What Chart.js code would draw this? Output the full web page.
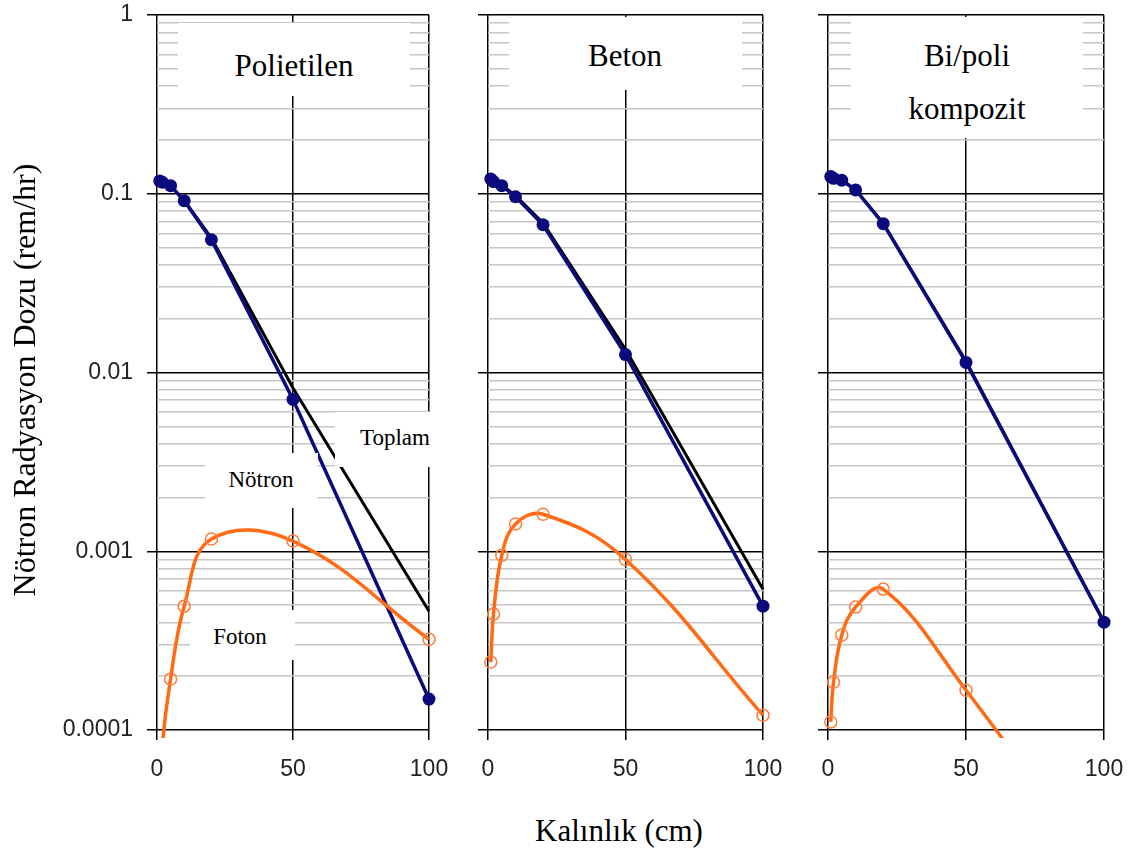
<!DOCTYPE html>
<html>
<head>
<meta charset="utf-8">
<script src="https://cdn.jsdelivr.net/npm/chart.js@4.4.0/dist/chart.umd.min.js"></script>
<style>
body { margin: 0; background: #fff; }
#wrap { position: relative; width: 1141px; height: 852px; overflow: hidden; background: #fff; }
#wrap canvas { position: absolute; top: -15px; }
.box { position: absolute; background: #fff; }
.txt { position: absolute; font-family: 'Liberation Serif', 'Times New Roman', serif; color: #000; line-height: 1; white-space: nowrap; transform: translateX(-50%); }
#ytitle { position: absolute; width: 600px; height: 32px; font-family: 'Liberation Serif', 'Times New Roman', serif; font-size: 32px; line-height: 32px; text-align: center; transform: rotate(-90deg); white-space: nowrap; }
</style>
</head>
<body>
<div id="wrap">
  <canvas id="c1" width="465" height="815" style="left:0px"></canvas>
  <canvas id="c2" width="344" height="815" style="left:455px"></canvas>
  <canvas id="c3" width="345" height="815" style="left:795px"></canvas>
  <div id="overlay"></div>
  <div id="ytitle">Nötron Radyasyon Dozu (rem/hr)</div>
</div>
<script>
// kalınlık (cm)
var xs = [1, 2, 5, 10, 20, 50, 100];
var xTicks = [0, 50, 100];
var yDecades = [0.0001, 0.001, 0.01, 0.1, 1];
var yTickLabels = ['0.0001', '0.001', '0.01', '0.1', '1'];

// Polietilen
var polyNotron = [0.118, 0.116, 0.111, 0.0914, 0.0553, 0.00707, 0.000149];
var polyFoton  = [0.00002, 0.00008, 0.000193, 0.000493, 0.00117, 0.00114, 0.000322];
var polyToplam = [0.118, 0.116, 0.111, 0.092, 0.0565, 0.0082, 0.000462];

// Beton
var betonNotron = [0.121, 0.117, 0.111, 0.0962, 0.0671, 0.0126, 0.000493];
var betonFoton  = [0.00024, 0.000445, 0.00095, 0.00142, 0.00161, 0.0009, 0.000121];
var betonToplam = [0.121, 0.117, 0.112, 0.0976, 0.0687, 0.0135, 0.000613];

// Bi/poli kompozit
var biNotron = [0.1247, 0.122, 0.119, 0.105, 0.068, 0.01138, 0.000401];
var biFoton  = [0.000111, 0.000185, 0.00034, 0.000487, 0.000614, 0.000167, 0.000015];
var biToplam = [0.1248, 0.1222, 0.1193, 0.1055, 0.0686, 0.01155, 0.000401];

var minorSteps = [2, 3, 4, 5, 6, 7, 8, 9];

var yGrid = [];
yDecades.forEach(function(d) {
    yGrid.push(d);
    if (d < 1) minorSteps.forEach(function(m) { yGrid.push(d * m); });
});

function isDecade(v) {
    var l = Math.log10(v);
    return Math.abs(l - Math.round(l)) < 1e-6;
}

function pts(arr) {
    return xs.map(function(x, i) { return { x: x, y: arr[i] }; });
}

var NAVY = '#0b0b7e';
var ORANGE = '#ff6a12';
var tickFont = { family: "'Liberation Sans', Arial, sans-serif", size: 23 };

function drawPanel(id, notron, foton, toplam, yAxisWidth, showLabels) {
    var ctx = document.getElementById(id).getContext('2d');
    return new Chart(ctx, {
        type: 'line',
        data: {
            datasets: [{
                data: pts(foton),
                borderColor: ORANGE,
                borderWidth: 3.5,
                tension: 0.4,
                pointRadius: 6,
                pointBorderWidth: 1.5,
                pointBorderColor: '#ff7d3c',
                pointBackgroundColor: 'rgba(0,0,0,0)',
                clip: { left: 10, top: 10, right: 10, bottom: 8 }
            }, {
                data: pts(notron),
                borderColor: NAVY,
                borderWidth: 3.5,
                tension: 0,
                pointRadius: 6.5,
                pointBorderWidth: 0,
                pointBackgroundColor: NAVY,
                clip: 10
            }, {
                data: pts(toplam),
                borderColor: '#000',
                borderWidth: 3,
                tension: 0,
                pointRadius: 0,
                clip: 10
            }]
        },
        options: {
            responsive: false,
            animation: false,
            layout: { padding: { top: 30, right: 36, bottom: 0, left: 0 } },
            plugins: { legend: { display: false }, tooltip: { enabled: false } },
            scales: {
                x: {
                    type: 'linear',
                    min: 0,
                    max: 100,
                    afterBuildTicks: function(scale) {
                        scale.ticks = xTicks.map(function(v) { return { value: v }; });
                    },
                    afterFit: function(scale) { scale.height = 70; },
                    ticks: { font: tickFont, color: '#222', padding: 16, autoSkip: false, maxRotation: 0 },
                    grid: { color: '#000', lineWidth: 1.5, tickColor: '#000', tickLength: 10 },
                    border: { display: false }
                },
                y: {
                    type: 'logarithmic',
                    min: 0.0001,
                    max: 1,
                    afterBuildTicks: function(scale) {
                        scale.ticks = yGrid.map(function(v) { return { value: v }; });
                    },
                    afterFit: function(scale) { scale.width = yAxisWidth; },
                    ticks: {
                        display: showLabels,
                        autoSkip: false,
                        font: tickFont,
                        color: '#222',
                        padding: 14,
                        callback: function(v) {
                            var i = yDecades.findIndex(function(d) { return Math.abs(d - v) / d < 1e-6; });
                            return i >= 0 ? yTickLabels[i] : '';
                        }
                    },
                    grid: {
                        color: function(c) { return isDecade(c.tick.value) ? '#000' : '#c6c6c6'; },
                        lineWidth: 1.5,
                        tickColor: function(c) { return isDecade(c.tick.value) ? '#000' : 'rgba(0,0,0,0)'; },
                        tickLength: 10
                    },
                    border: { display: false }
                }
            }
        }
    });
}

drawPanel('c1', polyNotron, polyFoton, polyToplam, 157, true);
drawPanel('c2', betonNotron, betonFoton, betonToplam, 33, false);
drawPanel('c3', biNotron, biFoton, biToplam, 33, false);

// white label boxes laid over the plot, like in the original figure
var boxes = [
    [178, 23, 232, 73],
    [509, 17, 233, 73],
    [851, 17, 232, 121],
    [335, 412, 105, 55],
    [205, 453, 113, 55],
    [190, 610, 105, 50]
];
var labels = [
    ['Polietilen', 294, 66, 31],
    ['Beton', 625, 56, 31],
    ['Bi/poli', 967, 56, 31],
    ['kompozit', 967, 109, 31],
    ['Toplam', 395, 438, 23],
    ['Nötron', 261, 480, 23],
    ['Foton', 240, 637, 23],
    ['Kalınlık (cm)', 619, 831, 31]
];

var overlay = document.getElementById('overlay');
boxes.forEach(function(b) {
    var d = document.createElement('div');
    d.className = 'box';
    d.style.left = b[0] + 'px';
    d.style.top = b[1] + 'px';
    d.style.width = b[2] + 'px';
    d.style.height = b[3] + 'px';
    overlay.appendChild(d);
});
labels.forEach(function(l) {
    var d = document.createElement('div');
    d.className = 'txt';
    d.textContent = l[0];
    d.style.fontSize = l[3] + 'px';
    d.style.left = l[1] + 'px';
    // cap centre sits about 0.505em below the top of a line-height:1 box
    d.style.top = (l[2] - l[3] * 0.505) + 'px';
    overlay.appendChild(d);
});

var yt = document.getElementById('ytitle');
yt.style.left = (24 - 300) + 'px';
yt.style.top = (380 - 16) + 'px';
</script>
</body>
</html>
